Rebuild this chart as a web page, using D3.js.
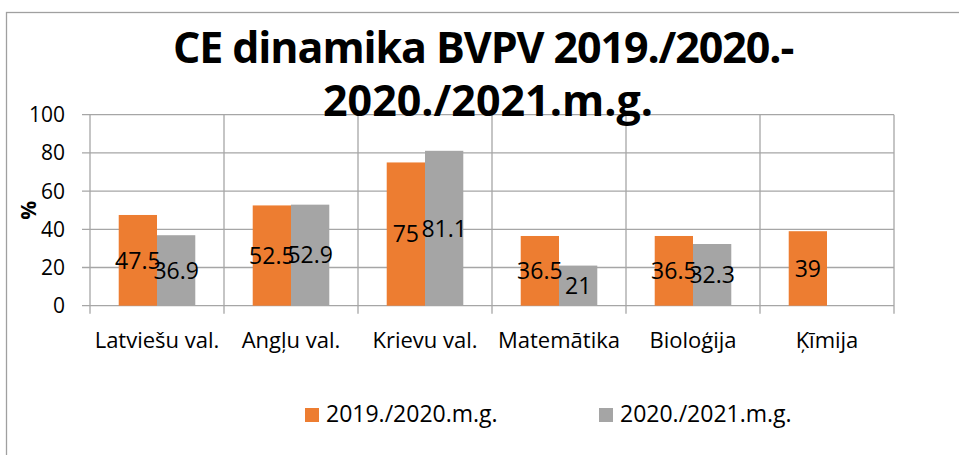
<!DOCTYPE html>
<html>
<head>
<meta charset="utf-8">
<script src="https://cdn.jsdelivr.net/npm/d3@7/dist/d3.min.js"></script>
<style>
  html, body { margin: 0; padding: 0; background: #fff; }
  svg { display: block; }
  text { font-family: "Open Sans", "Noto Sans", sans-serif; fill: #000; }
</style>
</head>
<body>
<svg id="chart" width="959" height="455"></svg>
<script>
// ---- data ----
const titleLines = ["CE dinamika BVPV 2019./2020.-", "2020./2021.m.g."];
const categories = ["Latviešu val.", "Angļu val.", "Krievu val.", "Matemātika", "Bioloģija", "Ķīmija"];
const seriesNames = ["2019./2020.m.g.", "2020./2021.m.g."];
const values2019 = [47.5, 52.5, 75, 36.5, 36.5, 39];
const values2020 = [36.9, 52.9, 81.1, 21, 32.3, null];
const yTicks = [0, 20, 40, 60, 80, 100];
const yAxisTitle = "%";
const colors = ["#ED7D31", "#A5A5A5"];

// ---- layout ----
const svg = d3.select("#chart");
const W = 959, H = 455;
const plot = { left: 90, right: 894, top: 114.7, bottom: 305.7 };
const gridColor = "#A6A6A6";

// chart border (extends past right/bottom edge, as in reference)
svg.append("rect")
  .attr("x", 6.5).attr("y", 12.5)
  .attr("width", W + 20).attr("height", H + 20)
  .attr("fill", "none").attr("stroke", "#A0A0A0").attr("stroke-width", 1.3);

const x0 = d3.scaleBand().domain(categories).range([plot.left, plot.right]).padding(0);
const bw = x0.bandwidth();
const x1 = d3.scaleBand().domain(seriesNames).range([bw * 0.75 / 3.5, bw * (1 - 0.75 / 3.5)]).padding(0);
const y = d3.scaleLinear().domain([0, 100]).range([plot.bottom, plot.top]);

// horizontal gridlines
svg.append("g").selectAll("line").data(yTicks).join("line")
  .attr("x1", plot.left - 8).attr("x2", plot.right)
  .attr("y1", d => y(d)).attr("y2", d => y(d))
  .attr("stroke", gridColor).attr("stroke-width", 1.3);

// vertical gridlines (category boundaries)
const bounds = categories.map(c => x0(c)).concat([plot.right]);
svg.append("g").selectAll("line").data(bounds).join("line")
  .attr("x1", d => d).attr("x2", d => d)
  .attr("y1", plot.top).attr("y2", plot.bottom + 8)
  .attr("stroke", gridColor).attr("stroke-width", 1.3);

// y tick labels
svg.append("g").selectAll("text").data(yTicks).join("text")
  .attr("x", 65).attr("y", d => y(d)).attr("dy", "0.36em")
  .attr("text-anchor", "end").attr("font-size", 21)
  .text(d => d);

// y axis title
svg.append("text")
  .attr("transform", `translate(36,${(plot.top + plot.bottom) / 2}) rotate(-90)`)
  .attr("text-anchor", "middle").attr("font-size", 21).attr("font-weight", "bold")
  .text(yAxisTitle);

// bars
const allSeries = [values2019, values2020];
const barData = [];
categories.forEach((c, i) => {
  allSeries.forEach((vals, s) => {
    if (vals[i] != null) barData.push({ c, s, v: vals[i] });
  });
});
svg.append("g").selectAll("rect").data(barData).join("rect")
  .attr("x", d => x0(d.c) + x1(seriesNames[d.s]))
  .attr("width", x1.bandwidth())
  .attr("y", d => y(d.v))
  .attr("height", d => y(0) - y(d.v))
  .attr("fill", d => colors[d.s]);

// x category labels
svg.append("g").selectAll("text").data(categories).join("text")
  .attr("x", d => x0(d) + bw / 2).attr("y", 348)
  .attr("text-anchor", "middle").attr("font-size", 22)
  .text(d => d);

// title (drawn before labels; second line sits on the top gridline as in the reference)
const titleX = [483, 488], titleY = [63, 116], titleLS = [-1.1, 0];
svg.append("g").selectAll("text").data(titleLines).join("text")
  .attr("x", (d, i) => titleX[i]).attr("y", (d, i) => titleY[i])
  .attr("text-anchor", "middle").attr("font-size", 43).attr("font-weight", "bold")
  .attr("letter-spacing", (d, i) => titleLS[i])
  .text(d => d);

// data labels
svg.append("g").selectAll("text").data(barData).join("text")
  .attr("x", d => x0(d.c) + x1(seriesNames[d.s]) + x1.bandwidth() / 2)
  .attr("y", d => (y(d.v) + y(0)) / 2).attr("dy", "0.36em")
  .attr("text-anchor", "middle").attr("font-size", 23)
  .text(d => d.v);

// legend
const legendX = [305, 599];
const lg = svg.append("g").selectAll("g").data(seriesNames).join("g")
  .attr("transform", (d, i) => `translate(${legendX[i]},0)`);
lg.append("rect").attr("x", 0).attr("y", 408).attr("width", 14).attr("height", 14)
  .attr("fill", (d, i) => colors[i]);
lg.append("text").attr("x", 21).attr("y", 422).attr("font-size", 23).text(d => d);
</script>
</body>
</html>
